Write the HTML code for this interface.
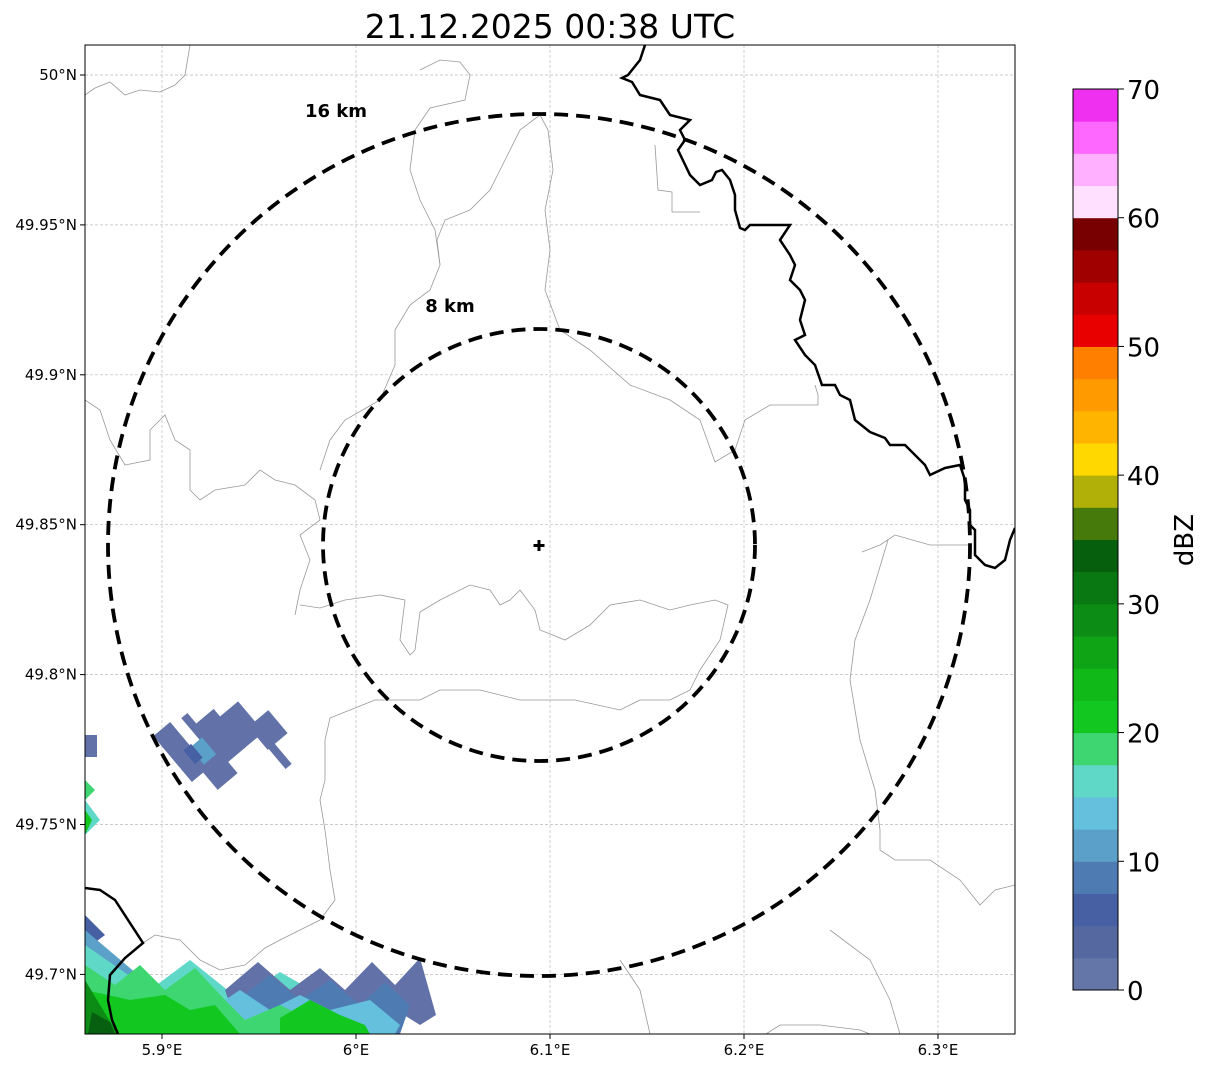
<!DOCTYPE html>
<html><head><meta charset="utf-8"><style>
body{margin:0;background:#fff;width:1207px;height:1069px;overflow:hidden;font-family:"DejaVu Sans",sans-serif}
</style></head><body>
<svg id="chart" width="1207" height="1069" viewBox="0 0 1207 1069" xmlns="http://www.w3.org/2000/svg" font-family="DejaVu Sans, Liberation Sans, sans-serif">
<text x="550" y="38" font-size="33" text-anchor="middle">21.12.2025 00:38 UTC</text>
<defs><clipPath id="pc"><rect x="85" y="45" width="930" height="989"/></clipPath></defs>
<g id="grid" stroke="#bbb" stroke-width="0.7" stroke-dasharray="3,2"></g>
<g clip-path="url(#pc)">
<g>
 <g fill="#6272a8">
  <rect x="170" y="722" width="22" height="60" transform="rotate(-40 181 752)"/>
  <rect x="205" y="712" width="28" height="50" transform="rotate(-40 219 737)"/>
  <rect x="228" y="705" width="26" height="40" transform="rotate(-40 241 725)"/>
  <rect x="255" y="715" width="26" height="30" transform="rotate(-40 268 730)"/>
  <rect x="190" y="712" width="8" height="30" transform="rotate(-40 194 727)"/>
  <rect x="275" y="740" width="8" height="30" transform="rotate(-40 279 755)"/>
  <rect x="205" y="755" width="26" height="30" transform="rotate(-40 218 770)"/>
  <rect x="85" y="735" width="12" height="22"/>
 </g>
 <rect x="195" y="740" width="16" height="22" fill="#5aa0c8" transform="rotate(-40 203 751)"/>
 <rect x="188" y="745" width="10" height="18" fill="#4660a3" transform="rotate(-40 193 754)"/>
 <polygon fill="#3dd670" points="85,780 95,790 85,800"/>
 <polygon fill="#60d8c8" points="85,800 100,820 85,835"/>
 <polygon fill="#12c820" points="85,810 92,820 85,835"/>
 <polygon fill="#4660a3" points="85,915 105,935 85,950"/>
 <polygon fill="#5aa0c8" points="85,930 150,985 150,1034 85,1034"/>
 <polygon fill="#60d8c8" points="85,945 150,990 190,960 240,1000 280,972 320,995 340,1034 85,1034"/>
 <polygon fill="#6272a8" points="225,990 258,962 290,990 320,968 345,990 372,962 395,985 420,958 436,1015 420,1025 380,1000 360,1034 240,1034"/>
 <polygon fill="#4f7bb3" points="240,998 270,975 300,1000 330,980 360,1005 385,982 410,1005 400,1034 250,1034"/>
 <polygon fill="#64c0dc" points="210,1010 240,990 270,1010 300,995 330,1010 370,1000 400,1025 395,1034 220,1034"/>
 <polygon fill="#3dd670" points="85,965 115,985 140,965 165,990 195,968 225,1000 245,1020 280,1005 300,1015 290,1034 85,1034"/>
 <polygon fill="#12c820" points="85,990 130,1000 165,995 190,1010 215,1005 240,1034 85,1034"/>
 <polygon fill="#12c820" points="280,1018 310,1000 340,1015 365,1025 370,1034 280,1034"/>
 <polygon fill="#0c8c14" points="85,980 100,1005 118,1034 85,1034"/>
 <polygon fill="#076010" points="92,1012 110,1022 115,1034 88,1034"/>
</g>
<g fill="none" stroke="#999" stroke-width="0.8">
 <polyline points="85,95 95,88 110,82 125,95 140,90 160,92 175,85 185,75 190,45"/>
 <polyline points="420,70 440,60 460,62 470,75 465,100 430,108 415,130 410,170 420,200 435,230 440,265 430,290 410,305 395,330 395,365 380,400 345,420 330,440 320,470"/>
 <polyline points="540,115 548,130 553,170 545,210 550,250 545,290 560,330 590,350 630,385 670,400 700,420 715,462 735,450 745,420 770,405 818,405 818,395 815,385"/>
 <polyline points="540,115 520,130 505,160 490,190 470,210 445,220 437,240 440,265"/>
 <polyline points="655,145 658,190 672,192 672,212 700,212"/>
 <polyline points="295,615 300,590 310,560 300,535 320,520 315,500 295,485 275,480 260,470 245,485 215,490 200,500 190,490 190,450 175,440 165,415 150,430 150,460 125,465 110,440 100,410 85,400"/>
 <polyline points="300,605 320,608 345,600 380,595 405,600 400,640 410,655 415,650 420,612 440,600 470,585 490,590 500,605 510,600 520,590 535,610 540,630 565,640 590,625 610,605 640,600 670,610 690,605 715,600 728,605 720,640 700,670 690,690"/>
 <polyline points="690,690 670,700 640,700 620,710 575,700 520,700 480,690 440,690 420,700 375,700 345,712 330,718 325,740 325,780 320,800 325,830 330,870 335,900 320,920 300,930 280,940 265,948 245,965 220,970 200,960 180,940 155,935 140,945"/>
 <polyline points="862,552 880,545 895,535 930,545 968,545"/>
 <polyline points="888,540 870,600 855,640 850,680 860,740 875,790 880,830 880,850 895,860 930,860 960,880 980,905 995,890 1015,885"/>
 <polyline points="766,1034 780,1025 820,1025 860,1030 870,1034"/>
 <polyline points="620,960 640,990 650,1034"/>
 <polyline points="830,930 870,960 890,1000 900,1034"/>
</g>
<g fill="none" stroke="#000" stroke-width="2.5">
 <polyline points="645,45 640,60 628,75 622,78 632,82 640,95 660,100 670,115 690,120 680,130 685,140 678,150 690,175 700,185 712,180 716,172 722,170 730,180 735,195 735,210 740,228 745,230 750,225 765,225 790,225 780,240 790,255 795,265 790,280 800,290 805,300 800,320 805,335 795,340 805,355 815,365 822,385 835,385 840,395 850,400 855,420 870,432 885,438 890,445 905,445 915,455 925,465 930,475 945,468 960,465 965,480 965,500 970,510 970,525 975,530 975,555 985,565 995,568 1005,560 1010,540 1015,528"/>
 <polyline points="85,888 100,890 115,900 143,943 125,958 110,975 108,1000 112,1020 118,1034"/>
</g>
<circle cx="539" cy="545" r="431" fill="none" stroke="#000" stroke-width="3.8" stroke-dasharray="14,8"/>
<circle cx="539" cy="545" r="216" fill="none" stroke="#000" stroke-width="3.8" stroke-dasharray="14,8"/>
</g>
<text x="336" y="117" font-size="18" font-weight="bold" text-anchor="middle">16 km</text>
<text x="450" y="312" font-size="18" font-weight="bold" text-anchor="middle">8 km</text>
<path d="M539,540 V551 M533.5,545.5 H544.5" stroke="#000" stroke-width="3"/>
<rect x="85" y="45" width="930" height="989" fill="none" stroke="#000" stroke-width="1"/>
<g id="xaxis" font-size="15"></g>
<g id="yaxis" font-size="15"></g>
<g id="cbar"></g>
<text transform="translate(1193,540) rotate(-90)" font-size="26" text-anchor="middle">dBZ</text>
</svg>
<script>
const lonTicks=[5.9,6.0,6.1,6.2,6.3];
const lonLabels=["5.9°E","6°E","6.1°E","6.2°E","6.3°E"];
const latTicks=[50.0,49.95,49.9,49.85,49.8,49.75,49.7];
const latLabels=["50°N","49.95°N","49.9°N","49.85°N","49.8°N","49.75°N","49.7°N"];
const cbColors=["#6475a8","#5568a0","#4660a3","#4f7bb3","#5aa0c8","#64c0dc","#60d8c8","#3dd670","#12c820","#10b818","#0ea416","#0c8c14","#0a7812","#065f0c","#467a0a","#b0b008","#ffd800","#ffb400","#ff9a00","#ff7f00","#e80000","#c80000","#a00000","#780000","#ffe0ff","#ffb0ff","#ff68ff","#f030f0"];
const cbTicks=[0,10,20,30,40,50,60,70];
const NS="http://www.w3.org/2000/svg";
const xS=v=>356+(v-6.0)*1940;
const yS=v=>75+(50.0-v)*2998;
const cS=v=>990-(v/70)*901;
function mk(t,a,p){const e=document.createElementNS(NS,t);for(const k in a)e.setAttribute(k,a[k]);p.appendChild(e);return e;}
const grid=document.getElementById('grid'),xa=document.getElementById('xaxis'),ya=document.getElementById('yaxis'),cb=document.getElementById('cbar');
lonTicks.forEach((v,i)=>{const x=xS(v);
 const l=mk('line',{x1:x,x2:x,y1:45,y2:1034},grid);
 mk('line',{x1:x,x2:x,y1:1034,y2:1039,stroke:'#000'},xa);
 const t=mk('text',{x:x,y:1055,'text-anchor':'middle'},xa);t.textContent=lonLabels[i];
 
 });
latTicks.forEach((v,i)=>{const y=yS(v);
 const l=mk('line',{x1:85,x2:1015,y1:y,y2:y},grid);
 mk('line',{x1:80,x2:85,y1:y,y2:y,stroke:'#000'},ya);
 const t=mk('text',{x:77,y:y+5,'text-anchor':'end'},ya);t.textContent=latLabels[i];
 
 });
cbColors.forEach((c,i)=>{const y0=cS(i*2.5),y1=cS((i+1)*2.5);
 const r=mk('rect',{x:1073,y:y1,width:45,height:y0-y1+0.5,fill:c},cb);
 
 });
mk('rect',{x:1073,y:89,width:45,height:901,fill:'none',stroke:'#000','stroke-width':1},cb);
cbTicks.forEach(v=>{const y=cS(v);
 mk('line',{x1:1118,x2:1124,y1:y,y2:y,stroke:'#000'},cb);
 const t=mk('text',{x:1127,y:y+10,'font-size':26},cb);t.textContent=v;
 
 });
</script>
</body></html>
